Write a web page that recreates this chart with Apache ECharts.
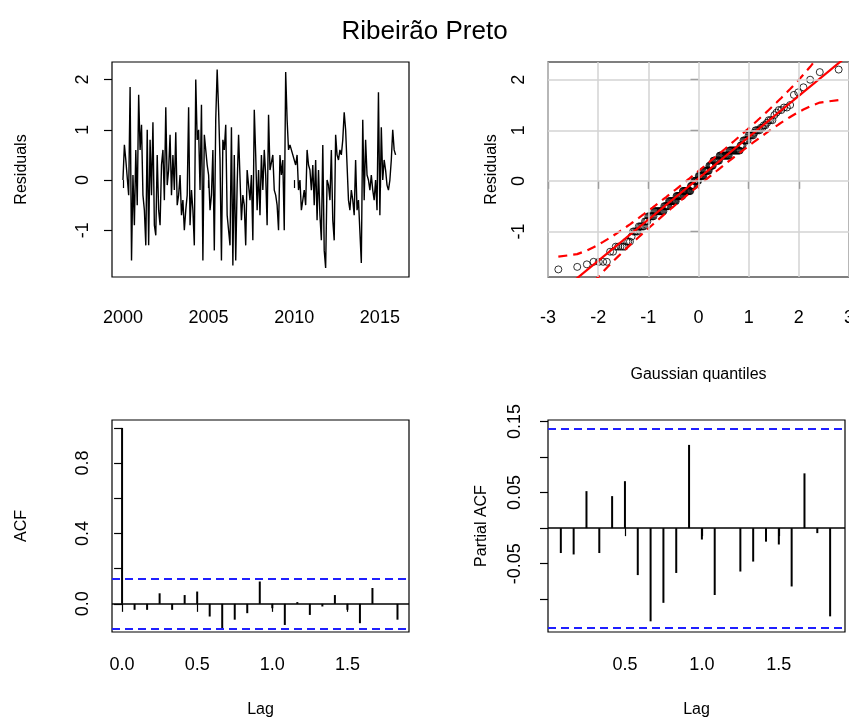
<!DOCTYPE html>
<html>
<head>
<meta charset="utf-8">
<script src="https://cdn.jsdelivr.net/npm/echarts@6/dist/echarts.min.js"></script>
<style>html,body{margin:0;padding:0;background:#fff}#c{width:849px;height:721px}</style>
</head>
<body>
<div id="c"></div>
<script>
// monthly residuals, Jan 2000 .. Dec 2015
const residuals = [
  0.0,0.7,0.4,0.4,-0.3,1.85,-1.6,0.1,-0.9,0.6,-0.5,1.7,
  0.6,1.1,-0.3,-0.6,-1.3,1.0,-1.3,0.8,-0.3,1.15,-0.9,-1.1,
  0.5,-0.6,-0.9,0.3,0.6,-0.4,1.45,-0.1,0.2,0.9,-0.3,0.5,
  -0.2,0.95,-0.5,-0.3,0.1,-0.7,-0.4,-1.0,-0.6,-0.3,1.45,-0.9,
  -0.2,-0.6,-1.3,2.0,0.8,1.0,-0.2,1.5,-1.6,0.9,0.6,0.3,
  0.1,-0.6,-0.3,0.6,-1.4,1.2,2.2,1.4,0.4,-1.6,0.8,0.6,
  1.1,-0.7,-1.0,-1.3,1.05,-1.7,0.5,-1.6,-0.1,0.9,0.9,-0.8,
  -0.3,-0.5,-1.3,0.2,-0.1,-0.4,0.1,-1.2,1.4,0.5,-0.6,0.2,
  -0.7,0.5,-0.2,0.6,0.1,-0.9,1.3,0.2,0.2,0.5,-0.2,-0.3,
  -0.5,-1.0,0.5,0.1,0.4,-1.0,2.15,1.2,0.6,0.7,0.6,0.5,
  0.5,0.3,0.5,-0.2,0.0,-0.6,-0.6,-0.2,-0.5,0.6,0.3,0.2,
  -0.2,0.3,-0.5,0.4,-0.8,0.2,-0.7,-1.2,0.7,-1.4,-1.75,0.0,
  -0.1,-0.4,0.6,-0.8,-1.2,0.9,0.5,0.4,0.6,0.5,0.8,1.35,
  1.0,0.3,-0.4,-0.6,-0.2,-0.4,-0.7,0.4,-0.6,-0.4,-0.4,-1.65,
  1.2,-0.4,0.8,0.1,0.0,-0.2,0.1,-0.2,-0.4,0.0,-0.6,1.75,
  -0.7,1.05,0.0,0.4,0.2,-0.1,-0.2,0.0,0.4,1.0,0.6,0.5
];
const startYear = 2000;
// ACF at lags 0..22 months
const acfValues = [1.0,-0.034,-0.034,0.06,-0.034,0.05,0.07,-0.072,-0.138,-0.09,-0.053,0.127,
  -0.025,-0.12,0.01,-0.063,-0.015,0.05,-0.034,-0.11,0.09,0.0,-0.09];
const acfBand = [0.14, -0.135];
// PACF at lags 1..22 months
const pacfValues = [-0.035,-0.037,0.052,-0.035,0.045,0.066,-0.066,-0.131,-0.105,-0.063,0.117,
  -0.016,-0.094,0.0,-0.061,-0.047,-0.019,-0.023,-0.082,0.077,-0.007,-0.124];
const pacfBand = [0.139, -0.141];
const tsTicks = [2000, 2005, 2010, 2015];
const qqXTicks = [-3, -2, -1, 0, 1, 2, 3];
const resTicks = [-1, 0, 1, 2];
const acfTicks = [0, 0.2, 0.4, 0.6, 0.8, 1.0];
const acfLabels = [0, 0.4, 0.8];
const pacfTicks = [-0.15, -0.10, -0.05, 0, 0.05, 0.10, 0.15];
const pacfLabels = [-0.15, -0.05, 0.05, 0.15];
const lagTicks = [0, 0.5, 1.0, 1.5];
const pLagTicks = [0.5, 1.0, 1.5];

// inverse normal (Acklam)
function qnorm(p) {
  const a = [-39.6968302866538, 220.946098424521, -275.928510446969, 138.357751867269, -30.6647980661472, 2.50662827745924];
  const b = [-54.4760987982241, 161.585836858041, -155.698979859887, 66.8013118877197, -13.2806815528857];
  const c = [-0.00778489400243029, -0.322396458041136, -2.40075827716184, -2.54973253934373, 4.37466414146497, 2.93816398269878];
  const d = [0.00778469570904146, 0.32246712907004, 2.445134137143, 3.75440866190742];
  let q, r;
  if (p < 0.02425) { q = Math.sqrt(-2 * Math.log(p));
    return (((((c[0]*q+c[1])*q+c[2])*q+c[3])*q+c[4])*q+c[5]) / ((((d[0]*q+d[1])*q+d[2])*q+d[3])*q+1); }
  if (p > 1 - 0.02425) return -qnorm(1 - p);
  q = p - 0.5; r = q * q;
  return (((((a[0]*r+a[1])*r+a[2])*r+a[3])*r+a[4])*r+a[5])*q / (((((b[0]*r+b[1])*r+b[2])*r+b[3])*r+b[4])*r+1);
}
const n = residuals.length;
const sorted = residuals.slice().sort((x, y) => x - y);
const probs = sorted.map((_, i) => (i + 0.5) / n);
const zq = probs.map(qnorm);
const quant = p => { const h = (n - 1) * p, lo = Math.floor(h); return sorted[lo] + (h - lo) * (sorted[lo + 1] - sorted[lo]); };
const slope = (quant(0.75) - quant(0.25)) / (qnorm(0.75) - qnorm(0.25));
const icpt = quant(0.5);
const fit = z => icpt + slope * z;
const se = zq.map((z, i) => slope / (Math.exp(-z * z / 2) / Math.sqrt(2 * Math.PI)) * Math.sqrt(probs[i] * (1 - probs[i]) / n));
const qqPts = zq.map((z, i) => [z, sorted[i]]);
const upper = zq.map((z, i) => [z, fit(z) + 1.96 * se[i]]);
const lower = zq.map((z, i) => [z, fit(z) - 1.96 * se[i]]);

const font = 'Liberation Sans, Arial, sans-serif';
const lab = { fontFamily: font, fontSize: 18, color: '#000' };
const nameStyle = { fontFamily: font, fontSize: 16, color: '#000' };
const grid = (l, t, w, h) => ({ left: l, top: t, width: w, height: h, outerBoundsMode: 'none', containLabel: false,
  show: true, borderColor: '#000', borderWidth: 1.2, backgroundColor: '#fff' });

function xAx(idx, min, max, ticks, name, gap, fmt, margin) {
  return { type: 'value', gridIndex: idx, min, max, name, nameLocation: 'middle', nameGap: gap, nameTextStyle: nameStyle,
    axisLine: { show: false }, splitLine: { show: false },
    axisTick: { show: true, length: 8, lineStyle: { color: '#000', width: 1.2 }, customValues: ticks },
    axisLabel: { ...lab, margin: margin || 20, customValues: ticks, formatter: fmt || (v => String(v)) } };
}
function yAx(idx, min, max, ticks, labels, name, gap, fmt, margin) {
  return { type: 'value', gridIndex: idx, min, max, name, nameLocation: 'middle', nameGap: gap, nameRotate: 90, nameTextStyle: nameStyle,
    axisLine: { show: false }, splitLine: { show: false },
    axisTick: { show: true, length: 8, lineStyle: { color: '#000', width: 1.2 }, customValues: ticks },
    axisLabel: { ...lab, rotate: 90, margin: margin || 20, customValues: labels || ticks, formatter: fmt || (v => String(v)) } };
}
const f1 = v => v.toFixed(1);
const f2 = v => v.toFixed(2);

function stems(xi, yi, data, color) {
  return { type: 'custom', xAxisIndex: xi, yAxisIndex: yi, data,
    renderItem: (params, api) => {
      const p0 = api.coord([api.value(0), 0]), p1 = api.coord([api.value(0), api.value(1)]);
      return { type: 'line', shape: { x1: p0[0], y1: p0[1], x2: p1[0], y2: p1[1] }, style: { stroke: color, lineWidth: 2 } };
    } };
}
function band(xi, yi, vals) {
  return { type: 'line', xAxisIndex: xi, yAxisIndex: yi, data: [], markLine: { silent: true, symbol: 'none', label: { show: false },
    lineStyle: { color: '#1f1fff', type: [8, 5], width: 2 }, data: vals.map(v => ({ yAxis: v })) } };
}
function hline(xi, yi, v) {
  return { type: 'line', xAxisIndex: xi, yAxisIndex: yi, data: [], markLine: { silent: true, symbol: 'none', label: { show: false },
    lineStyle: { color: '#000', type: 'solid', width: 1.5 }, data: [{ yAxis: v }] } };
}

const chart = echarts.init(document.getElementById('c'));
chart.setOption({
  animation: false,
  title: { text: 'Ribeirão Preto', left: 'center', top: 14, textStyle: { fontFamily: font, fontSize: 26, fontWeight: 'normal', color: '#000' } },
  grid: [grid(112, 62, 297, 215), grid(548, 62, 301, 215), grid(112, 420, 297, 212), grid(548, 420, 297, 212)],
  xAxis: [
    xAx(0, 1999.36, 2016.7, tsTicks, '', 30, null, 32),
    xAx(1, -3, 3, qqXTicks, 'Gaussian quantiles', 90, null, 32),
    xAx(2, -0.067, 1.91, lagTicks, 'Lag', 70, f1, 24),
    xAx(3, 0.0, 1.93, pLagTicks, 'Lag', 70, f1, 24)
  ],
  yAxis: [
    yAx(0, -1.93, 2.35, resTicks, null, 'Residuals', 82),
    yAx(1, -1.9, 2.35, resTicks, null, 'Residuals', 48),
    yAx(2, -0.16, 1.045, acfTicks, acfLabels, 'ACF', 82, f1),
    yAx(3, -0.146, 0.152, pacfTicks, pacfLabels, 'Partial ACF', 58, f2, 24)
  ],
  series: [
    { type: 'line', xAxisIndex: 0, yAxisIndex: 0, symbol: 'none', lineStyle: { color: '#000', width: 1.4 },
      data: residuals.map((v, i) => [startYear + i / 12, v]) },
    // QQ grid lines
    { type: 'line', xAxisIndex: 1, yAxisIndex: 1, data: [], markLine: { silent: true, symbol: 'none', label: { show: false },
      lineStyle: { color: '#d3d3d3', type: 'solid', width: 1.5 },
      data: qqXTicks.map(v => ({ xAxis: v })).concat(resTicks.map(v => ({ yAxis: v }))) } },
    { type: 'line', xAxisIndex: 1, yAxisIndex: 1, symbol: 'none', lineStyle: { color: '#ff0000', width: 2.2 },
      data: [[-3, fit(-3)], [3, fit(3)]] },
    { type: 'line', xAxisIndex: 1, yAxisIndex: 1, symbol: 'none', lineStyle: { color: '#ff0000', width: 2.2, type: [9, 6] }, data: upper },
    { type: 'line', xAxisIndex: 1, yAxisIndex: 1, symbol: 'none', lineStyle: { color: '#ff0000', width: 2.2, type: [9, 6] }, data: lower },
    { type: 'scatter', xAxisIndex: 1, yAxisIndex: 1, symbol: 'circle', symbolSize: 7,
      itemStyle: { color: 'transparent', borderColor: '#000', borderWidth: 1 }, data: qqPts },
    hline(2, 2, 0),
    stems(2, 2, acfValues.map((v, i) => [i / 12, v]), '#000'),
    band(2, 2, acfBand),
    hline(3, 3, 0),
    stems(3, 3, pacfValues.map((v, i) => [(i + 1) / 12, v]), '#000'),
    band(3, 3, pacfBand)
  ]
});
</script>
</body>
</html>
